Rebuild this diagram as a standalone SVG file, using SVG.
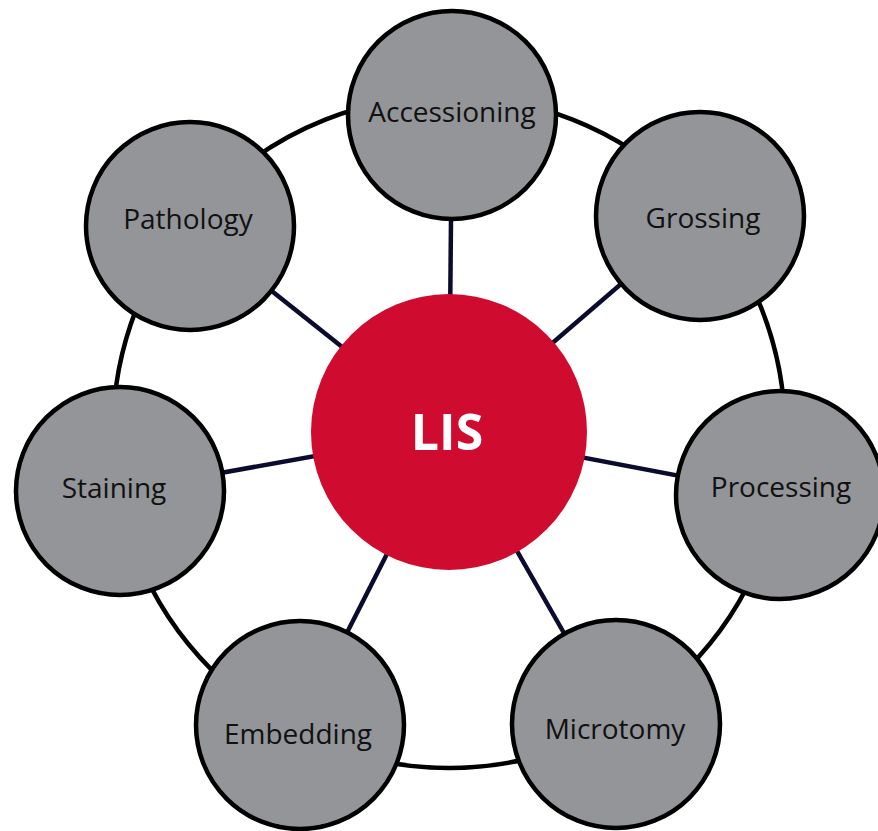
<svg xmlns="http://www.w3.org/2000/svg" width="878" height="831" viewBox="0 0 878 831">
<style>
.ring{fill:none;stroke:#000;stroke-width:4.5}
.spoke{stroke:#0b0b2e;stroke-width:4.5;fill:none}
.node{fill:#939598;stroke:#000;stroke-width:4.5}
.lbl{font-family:"Open Sans","Noto Sans",sans-serif;font-size:28px;fill:#111;text-anchor:middle}
.hub{fill:#cf0c2f}
.hubl{font-family:"Open Sans","Noto Sans",sans-serif;font-size:50px;font-weight:bold;fill:#fff;text-anchor:middle}
</style>
<rect width="878" height="831" fill="#fff"/>
<g id="connectors">
<circle class="ring" cx="449" cy="432" r="336"/>
<line class="spoke" x1="449" y1="432" x2="452" y2="115"/>
<line class="spoke" x1="449" y1="432" x2="700" y2="216"/>
<line class="spoke" x1="449" y1="432" x2="780" y2="495"/>
<line class="spoke" x1="449" y1="432" x2="616" y2="724"/>
<line class="spoke" x1="449" y1="432" x2="300" y2="725"/>
<line class="spoke" x1="449" y1="432" x2="120" y2="491"/>
<line class="spoke" x1="449" y1="432" x2="190" y2="226"/>
</g>
<g id="accessioning"><circle class="node" cx="452" cy="115" r="104"/><text class="lbl" x="452" y="122">Accessioning</text></g>
<g id="grossing"><circle class="node" cx="700" cy="216" r="104"/><text class="lbl" x="703" y="228">Grossing</text></g>
<g id="processing"><circle class="node" cx="780" cy="495" r="104"/><text class="lbl" x="781" y="497">Processing</text></g>
<g id="microtomy"><circle class="node" cx="616" cy="724" r="104"/><text class="lbl" x="615" y="739">Microtomy</text></g>
<g id="embedding"><circle class="node" cx="300" cy="725" r="104"/><text class="lbl" x="298" y="744">Embedding</text></g>
<g id="staining"><circle class="node" cx="120" cy="491" r="104"/><text class="lbl" x="114" y="498">Staining</text></g>
<g id="pathology"><circle class="node" cx="190" cy="226" r="104"/><text class="lbl" x="188" y="229">Pathology</text></g>
<g id="lis"><circle class="hub" cx="449" cy="432" r="138"/><text class="hubl" x="447" y="450">LIS</text></g>
</svg>
